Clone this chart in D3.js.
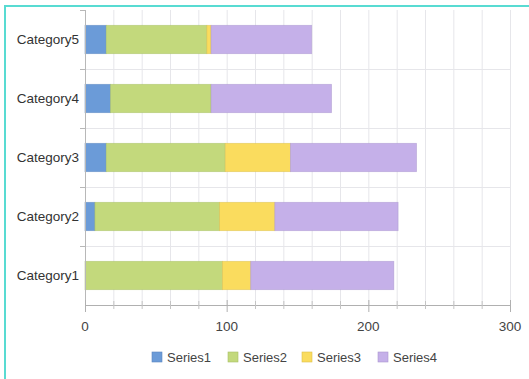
<!DOCTYPE html>
<html>
<head>
<meta charset="utf-8">
<script src="https://cdn.jsdelivr.net/npm/d3@7"></script>
<style>
  html, body { margin: 0; padding: 0; background: #fff; }
  svg { display: block; font-family: "Liberation Sans", Arial, sans-serif; }
</style>
</head>
<body>
<svg id="chart" width="529" height="379"></svg>
<script>
// Stacked horizontal bar data
const categories = ["Category1", "Category2", "Category3", "Category4", "Category5"];
const seriesNames = ["Series1", "Series2", "Series3", "Series4"];
const series1 = [0, 7, 15, 18, 15];
const series2 = [97, 88, 84, 71, 71];
const series3 = [20, 39, 46, 0, 3];
const series4 = [101, 87, 89, 85, 71];
const xTickValues = [0, 100, 200, 300];
const colors = ["#6b9bd8", "#c3d97c", "#fadc5e", "#c5b0e9"];
const strokes = ["#5a86c0", "#a9bf66", "#dcc04c", "#ab97cf"];

const rows = categories.map((c, i) => ({
  category: c,
  Series1: series1[i], Series2: series2[i], Series3: series3[i], Series4: series4[i]
}));

const svg = d3.select("#chart");
const W = 529, H = 379;
const m = { left: 85, right: 19, top: 10, bottom: 74 };
const iw = W - m.left - m.right, ih = H - m.top - m.bottom;

// frame edges
svg.append("rect").attr("x", 4).attr("y", 5).attr("width", W).attr("height", 2).attr("fill", "#58dbd2");
svg.append("rect").attr("x", 4).attr("y", 5).attr("width", 2).attr("height", H).attr("fill", "#58dbd2");

const x = d3.scaleLinear().domain([0, 300]).range([0, iw]);
const y = d3.scaleBand().domain(categories.slice().reverse()).range([0, ih]).paddingInner(0).paddingOuter(0);

const g = svg.append("g").attr("transform", `translate(${m.left},${m.top})`);

// vertical grid every 20
g.append("g").selectAll("line").data(d3.range(20, 301, 20)).join("line")
  .attr("x1", d => x(d) + 0.5).attr("x2", d => x(d) + 0.5)
  .attr("y1", 0).attr("y2", ih)
  .attr("stroke", "#e6e6ea").attr("stroke-width", 1);

// horizontal grid at category boundaries
g.append("g").selectAll("line").data(categories.slice(0, 4)).join("line")
  .attr("x1", 0).attr("x2", iw)
  .attr("y1", d => Math.round(y(d)) + 0.5).attr("y2", d => Math.round(y(d)) + 0.5)
  .attr("stroke", "#e6e6ea");

// stacked bars
const stack = d3.stack().keys(seriesNames)(rows);
const barH = y.bandwidth() * 0.48;
g.append("g").selectAll("g").data(stack).join("g")
  .attr("fill", (d, i) => colors[i])
  .attr("stroke", (d, i) => strokes[i])
  .selectAll("rect").data(d => d.filter(p => p[1] - p[0] > 0)).join("rect")
  .attr("x", d => x(d[0]))
  .attr("width", d => x(d[1]) - x(d[0]))
  .attr("y", d => y(d.data.category) + (y.bandwidth() - barH) / 2)
  .attr("height", barH)
  .attr("stroke-width", 0.8)
  .attr("stroke-opacity", 0.6);

// left axis
g.append("line").attr("x1", 0.5).attr("x2", 0.5).attr("y1", 0).attr("y2", ih).attr("stroke", "#b8b8b8");
g.append("g").selectAll("line").data(d3.range(0, 5)).join("line")
  .attr("x1", -5).attr("x2", 0)
  .attr("y1", d => Math.round(d * y.step()) + 0.5).attr("y2", d => Math.round(d * y.step()) + 0.5)
  .attr("stroke", "#b8b8b8");
g.append("g").selectAll("text").data(categories).join("text")
  .attr("x", -6).attr("y", d => y(d) + y.bandwidth() / 2)
  .attr("text-anchor", "end").attr("dy", "0.35em")
  .attr("font-size", 13.5).attr("fill", "#333")
  .text(d => d);

// bottom axis
const bottom = g.append("g").attr("transform", `translate(0,${ih})`);
bottom.append("line").attr("x1", 0).attr("x2", iw).attr("y1", 0.5).attr("y2", 0.5).attr("stroke", "#b0b0b0");
bottom.selectAll("line.minor").data(d3.range(20, 300, 20).filter(v => v % 100 !== 0)).join("line")
  .attr("class", "minor")
  .attr("x1", d => x(d) + 0.5).attr("x2", d => x(d) + 0.5)
  .attr("y1", -4).attr("y2", 4).attr("stroke", "#c4c4c4");
bottom.selectAll("line.major").data(xTickValues).join("line")
  .attr("class", "major")
  .attr("x1", d => x(d) + 0.5).attr("x2", d => x(d) + 0.5)
  .attr("y1", -5).attr("y2", 7).attr("stroke", "#b0b0b0");
bottom.selectAll("text").data(xTickValues).join("text")
  .attr("x", d => x(d)).attr("y", 21)
  .attr("text-anchor", "middle").attr("dy", "0.35em")
  .attr("font-size", 13.5).attr("fill", "#444")
  .text(d => d);

// legend
const legendX = [152, 228, 302, 378];
const legend = svg.append("g").attr("transform", "translate(0,357)");
const li = legend.selectAll("g").data(seriesNames).join("g")
  .attr("transform", (d, i) => `translate(${legendX[i]},0)`);
li.append("rect").attr("x", 0).attr("y", -5).attr("width", 10).attr("height", 10)
  .attr("fill", (d, i) => colors[i]).attr("stroke", (d, i) => strokes[i]).attr("stroke-width", 0.6);
li.append("text").attr("x", 15).attr("y", 0).attr("dy", "0.35em")
  .attr("font-size", 13).attr("fill", "#444").text(d => d);
</script>
</body>
</html>
